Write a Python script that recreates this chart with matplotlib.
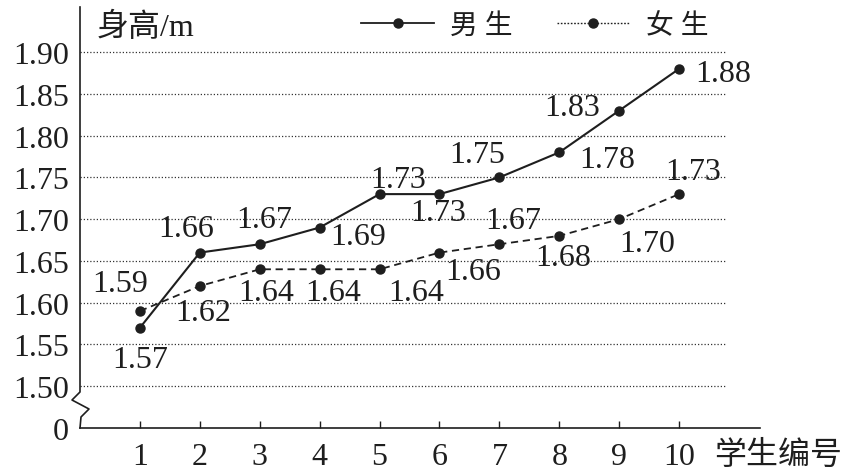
import numpy as np
import matplotlib
matplotlib.use("Agg")
import matplotlib.pyplot as plt
from matplotlib.lines import Line2D

plt.rcParams['font.family'] = ['Liberation Serif', 'Noto Sans CJK SC', 'DejaVu Sans']

# data
students = [1, 2, 3, 4, 5, 6, 7, 8, 9, 10]
boys = [1.57, 1.66, 1.67, 1.69, 1.73, 1.73, 1.75, 1.78, 1.83, 1.88]
girls = [1.59, 1.62, 1.64, 1.64, 1.64, 1.66, 1.67, 1.68, 1.70, 1.73]
grid_vals = [1.50, 1.55, 1.60, 1.65, 1.70, 1.75, 1.80, 1.85, 1.90]
y_labels = ['0', '1.50', '1.55', '1.60', '1.65', '1.70', '1.75', '1.80', '1.85', '1.90']
y_zero = 1.45  # where the broken axis puts "0"

# label offsets in pixels (placement only)
boy_off = [(0, -32), (-14, 24), (4, 25), (39, -9), (19, 15),
           (-1, -18), (-22, 23), (48, -7), (-47, 3), (44, -5)]
girl_off = [(-20, 28), (3, -27), (6, -23), (14, -23), (37, -23),
            (34, -19), (14, 24), (4, -22), (28, -24), (14, 23)]

ink = '#1e1e1e'
W, H = 847, 477
fig = plt.figure(figsize=(W / 100, H / 100), dpi=100)
ax = fig.add_axes([80 / W, (H - 429) / H, 680 / W, 421 / H])
ax.set_xlim(0, 11.35)
ax.set_ylim(y_zero, 1.954)

# dotted grid
ax.hlines(grid_vals, 0, 10.77, colors='#333333', linewidth=0.9,
          linestyles=(0, (1, 1.6)))

ax.plot(students, boys, color=ink, lw=1.5, marker='o', ms=6.5, zorder=3)
ax.plot(students, girls, color=ink, lw=1.3, ls=(0, (4, 2.6)), marker='o', ms=6.5, zorder=3)

for x, v, (dx, dy) in zip(students, boys, boy_off):
    ax.annotate(f'{v:.2f}', (x, v), xytext=(dx, dy), textcoords='offset pixels',
                ha='center', va='center', fontsize=23, color=ink)
for x, v, (dx, dy) in zip(students, girls, girl_off):
    ax.annotate(f'{v:.2f}', (x, v), xytext=(dx, dy), textcoords='offset pixels',
                ha='center', va='center', fontsize=23, color=ink)

# axes
for s in ['top', 'right', 'left']:
    ax.spines[s].set_visible(False)
ax.spines['bottom'].set_color(ink)
ax.spines['bottom'].set_linewidth(1.2)

# left spine with a break (zigzag) near the bottom
zx = np.array([0, 0, -8, 9, 1, 0]) / 680
zy = np.array([421, 36, 28, 19, 11, 0]) / 421
ax.plot(zx, zy, color=ink, lw=1.2, transform=ax.transAxes, clip_on=False)

ax.set_xticks(students)
ax.set_xticklabels([str(s) for s in students])
ax.set_yticks([y_zero] + grid_vals)
ax.set_yticklabels(y_labels)
ax.tick_params(axis='x', direction='in', length=5, width=1, color=ink,
               pad=10, labelsize=23, labelcolor=ink)
ax.tick_params(axis='y', length=0, pad=8, labelsize=23, labelcolor=ink)

fig.text(97 / W, 1 - 28 / H, '身高/m', fontsize=23, ha='left', va='center', color=ink)
fig.text(714 / W, 1 - 456 / H, '学生编号', fontsize=23, ha='left', va='center', color=ink)

handles = [Line2D([], [], color=ink, lw=1.3, marker='o', ms=6.5),
           Line2D([], [], color=ink, lw=1.0, ls=(0, (1.2, 1.2)), marker='o', ms=6.5)]
fig.legend(handles, ['男 生', '女 生'], loc='center', ncol=2, frameon=False,
           bbox_to_anchor=(535 / W, 1 - 27 / H), fontsize=20, handlelength=2.6,
           handletextpad=0.6, columnspacing=1.6, labelcolor=ink)

fig.savefig('out.png', dpi=100, facecolor='white')
